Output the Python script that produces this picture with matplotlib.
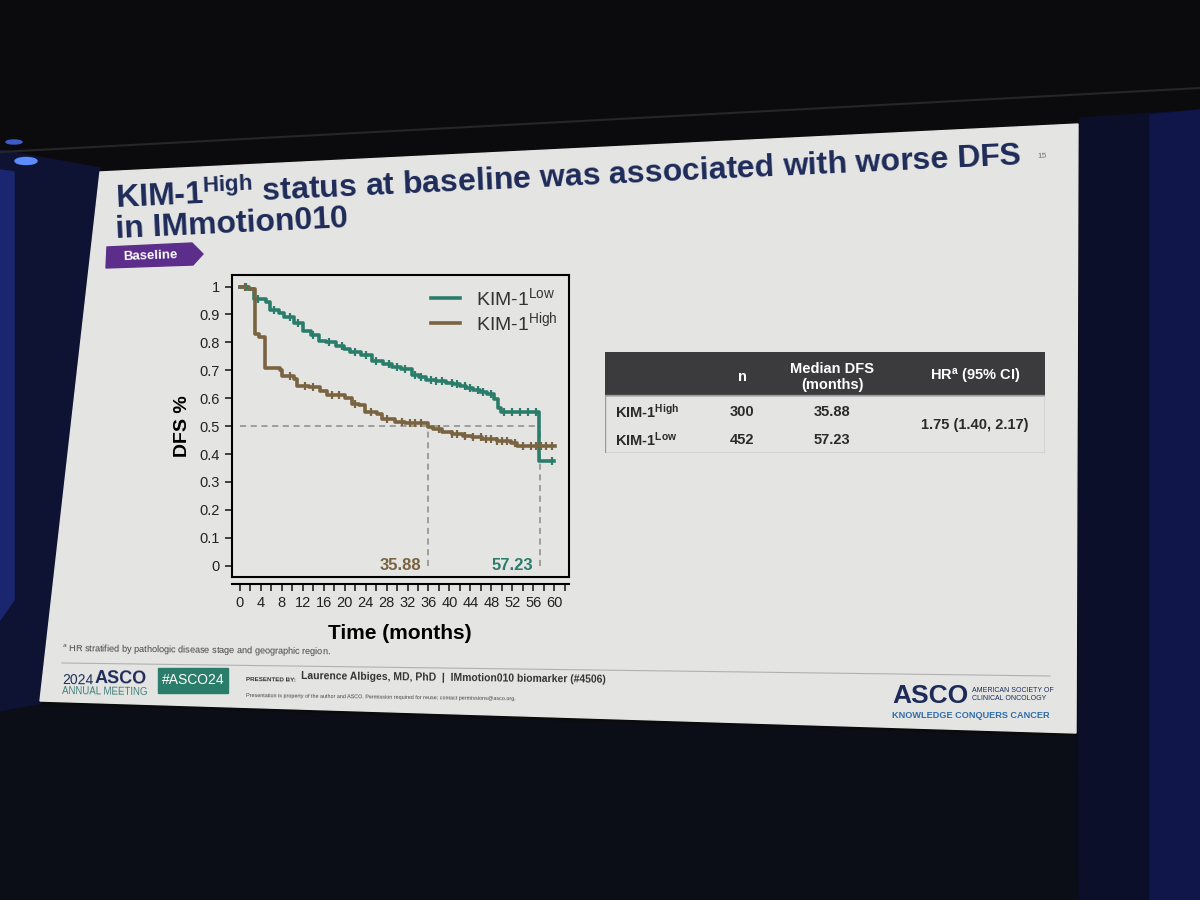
import numpy as np
import matplotlib
matplotlib.use('Agg')
import matplotlib.pyplot as plt
from matplotlib import font_manager
from matplotlib.patches import Polygon, Rectangle, Ellipse
from matplotlib.ticker import MultipleLocator

# fonts: the slide uses Arial / Arial Narrow
installed = {f.name for f in font_manager.fontManager.ttflist}
narrow = 'Liberation Sans Narrow' if 'Liberation Sans Narrow' in installed else 'Liberation Sans'
plt.rcParams['font.family'] = ['Liberation Sans', 'DejaVu Sans']
plt.rcParams['mathtext.fontset'] = 'custom'
plt.rcParams['mathtext.rm'] = 'Liberation Sans'
plt.rcParams['mathtext.bf'] = 'Liberation Sans:bold'
plt.rcParams['mathtext.it'] = 'Liberation Sans:italic'

# KM curves (months, DFS)
low_t = [0, 1.5, 2.6, 4.9, 5.7, 7.4, 8.5, 10.3, 12.1, 13.5, 15.0, 16.4, 18.4, 19.8,
         21.1, 23.2, 25.2, 27.3, 29.0, 30.8, 32.8, 34.2, 35.6, 37.5, 39.4, 40.7,
         42.0, 43.2, 44.5, 45.8, 47.2, 48.5, 49.2, 49.8, 57.2, 59.9]
low_s = [1.0, 0.99, 0.955, 0.945, 0.915, 0.905, 0.89, 0.87, 0.84, 0.827, 0.806, 0.80,
         0.787, 0.777, 0.766, 0.754, 0.735, 0.722, 0.712, 0.703, 0.684, 0.675, 0.665,
         0.66, 0.656, 0.65, 0.643, 0.637, 0.63, 0.624, 0.615, 0.597, 0.566, 0.552,
         0.375, 0.375]
high_t = [0, 1.8, 2.8, 3.6, 4.8, 7.6, 8.0, 10.4, 10.9, 13.2, 15.3, 16.7, 20.1, 21.4,
          22.8, 23.8, 26.2, 27.2, 29.6, 31.5, 35.9, 36.8, 38.6, 40.5, 42.5, 44.3,
          46.2, 49.0, 51.7, 53.0, 60.1]
high_s = [1.0, 0.99, 0.83, 0.82, 0.71, 0.70, 0.68, 0.67, 0.645, 0.64, 0.627, 0.61,
          0.60, 0.58, 0.575, 0.55, 0.545, 0.525, 0.515, 0.512, 0.497, 0.49, 0.478,
          0.472, 0.465, 0.46, 0.453, 0.448, 0.44, 0.428, 0.428]
# censoring ticks
censor_low = [1.2, 3.5, 6.5, 9.5, 11, 14, 17, 19.5, 22, 24, 26, 28.5, 30, 31.5, 33.5,
              34.5, 36.5, 37.5, 38.5, 40.5, 41.5, 43, 44, 45.5, 46.5, 48, 50.5, 52,
              53.5, 55, 56.5, 59.5]
censor_high = [1.0, 9.5, 12.5, 14, 17.5, 19, 22, 25, 28, 31, 32.5, 33.5, 34.5, 38,
               40.5, 41.5, 43, 44.5, 46, 47, 48, 49, 50, 51, 52.5, 54, 55.5, 56.5,
               57.5, 58.5, 59.5]
medians = [35.88, 57.23]

# table content
tab_groups = ['KIM-1$^{\\mathbf{High}}$', 'KIM-1$^{\\mathbf{Low}}$']
tab_n = ['300', '452']
tab_median = ['35.88', '57.23']
tab_hr = '1.75 (1.40, 2.17)'

teal = '#2b7d6b'
brown = '#7a6341'
navy = '#1e2b58'

fig = plt.figure(figsize=(12, 9), dpi=100, facecolor='#0b0a0c')

# background / slide, drawn in pixel coords
bg = fig.add_axes([0, 0, 1, 1])
bg.set_xlim(0, 1200)
bg.set_ylim(900, 0)
bg.axis('off')
bg.add_patch(Rectangle((0, 0), 1200, 900, color='#0b0a0c'))
bg.plot([0, 1200], [152, 88], color='#26262a', lw=1.5)
bg.add_patch(Polygon([(0, 150), (100, 168), (40, 705), (0, 712)], color='#0e1334'))
bg.add_patch(Polygon([(0, 170), (14, 172), (14, 600), (0, 620)], color='#1a2670'))
bg.add_patch(Polygon([(1080, 118), (1200, 110), (1200, 900), (1078, 900)], color='#0b0f2a'))
bg.add_patch(Polygon([(1150, 115), (1200, 110), (1200, 900), (1150, 900)], color='#10164a'))
bg.add_patch(Polygon([(0, 712), (40, 705), (1076, 737), (1078, 900), (0, 900)], color='#0b0d17'))
bg.add_patch(Ellipse((26, 161), 22, 7, color='#5d8cff'))
bg.add_patch(Ellipse((14, 142), 16, 4, color='#3d5ccc'))
bg.add_patch(Polygon([(100, 172), (1078, 124), (1076, 733), (40, 701)], color='#e4e5e3'))

# title
bg.text(116, 208, r'KIM-1$^{\mathregular{High}}$ status at baseline was associated with worse DFS',
        fontsize=23, fontweight='bold', family=narrow, color=navy,
        rotation=2.7, rotation_mode='anchor', ha='left', va='baseline')
bg.text(116, 238, 'in IMmotion010', fontsize=23, fontweight='bold', family=narrow,
        color=navy, rotation=2.7, rotation_mode='anchor', ha='left', va='baseline')
bg.text(1042, 156, '15', fontsize=6, color='#777777', rotation=2.7, ha='center', va='center')

# "Baseline" tag
bg.add_patch(Polygon([(107, 247), (192, 243), (203, 254), (193, 265), (106, 268)], color='#5c2d8a'))
bg.text(150, 256, 'Baseline', fontsize=9.5, fontweight='bold', family=narrow, color='white',
        rotation=2, ha='center', va='center')

# footnote and footer
bg.text(62, 650, r'$^{a}$ HR stratified by pathologic disease stage and geographic region.',
        fontsize=6.6, family=narrow, color='#444444', rotation=-0.7, va='center')
bg.plot([62, 1050], [663, 676], color='#b0b0b0', lw=0.8)
bg.text(62, 684, '2024', fontsize=10, family=narrow, color=navy, va='baseline', rotation=-0.7)
bg.text(94, 684, 'ASCO', fontsize=13, fontweight='bold', family=narrow, color=navy,
        va='baseline', rotation=-0.7)
bg.text(62, 695, 'ANNUAL MEETING', fontsize=7, family=narrow, color='#3f7f78',
        va='baseline', rotation=-0.7)
bg.add_patch(Rectangle((158, 668), 70, 25, color=teal))
bg.text(193, 680, '#ASCO24', fontsize=10, family=narrow, color='white', ha='center', va='center')
bg.text(246, 682, 'PRESENTED BY:', fontsize=4.5, fontweight='bold', family=narrow,
        color='#333333', va='baseline', rotation=-0.7)
bg.text(301, 683, 'Laurence Albiges, MD, PhD  |  IMmotion010 biomarker (#4506)', fontsize=7.5,
        fontweight='bold', family=narrow, color='#333333', va='baseline', rotation=-0.7)
bg.text(246, 700, 'Presentation is property of the author and ASCO. Permission required for reuse; '
        'contact permissions@asco.org.', fontsize=3.9, family=narrow, color='#444444',
        va='baseline', rotation=-0.7)
bg.text(892, 703, 'ASCO', fontsize=19, fontweight='bold', family=narrow, color=navy, va='baseline')
bg.text(972, 694, 'AMERICAN SOCIETY OF\nCLINICAL ONCOLOGY', fontsize=5, family=narrow,
        color=navy, va='center', linespacing=1.2)
bg.text(892, 716, 'KNOWLEDGE CONQUERS CANCER', fontsize=6.6, fontweight='bold', family=narrow,
        color='#2f6da8', va='center')

# KM plot
ax = fig.add_axes([0.193, 0.359, 0.281, 0.335])
ax.set_facecolor('none')
ax.step(low_t, low_s, where='post', color=teal, lw=2.6, label='KIM-1$^{\\mathregular{Low}}$')
ax.step(high_t, high_s, where='post', color=brown, lw=2.6, label='KIM-1$^{\\mathregular{High}}$')


def at_time(t, s, c):
    return s[np.searchsorted(t, c, side='right') - 1]


ax.plot(censor_low, [at_time(low_t, low_s, c) for c in censor_low], ls='none',
        marker='|', ms=6, mew=1.6, color=teal)
ax.plot(censor_high, [at_time(high_t, high_s, c) for c in censor_high], ls='none',
        marker='|', ms=6, mew=1.6, color=brown)

# median reference lines
dash = dict(color='#8a8a8a', lw=1.1, ls=(0, (4, 3)), zorder=1)
ax.plot([0, medians[1]], [0.5, 0.5], **dash)
for m in medians:
    ax.plot([m, m], [0, 0.5], **dash)
ax.text(medians[0] - 1.2, 0.0, '35.88', color=brown, fontsize=12, fontweight='bold',
        ha='right', va='center')
ax.text(medians[1] - 1.2, 0.0, '57.23', color=teal, fontsize=12, fontweight='bold',
        ha='right', va='center')

ax.set_xlim(-1.6, 62.8)
ax.set_ylim(-0.04, 1.04)
ax.xaxis.set_major_locator(MultipleLocator(4))
ax.xaxis.set_minor_locator(MultipleLocator(2))
ax.set_yticks(np.arange(0, 1.01, 0.1))
ax.set_yticklabels(['0', '0.1', '0.2', '0.3', '0.4', '0.5', '0.6', '0.7', '0.8', '0.9', '1'])
ax.tick_params(which='both', direction='out', length=5, width=1.2, labelsize=10.5,
               colors='#222222')
for sp in ax.spines.values():
    sp.set_linewidth(1.5)
ax.spines['bottom'].set_position(('outward', 5))
ax.plot([0, 1], [0, 0], transform=ax.transAxes, color='black', lw=1.5, clip_on=False)
ax.set_xlabel('Time (months)', fontsize=15, fontweight='bold', labelpad=10)
ax.set_ylabel('DFS %', fontsize=14, fontweight='bold', labelpad=6)
ax.legend(loc='upper right', frameon=False, fontsize=14, handlelength=1.5,
          labelspacing=0.05, borderaxespad=0.2, labelcolor='#333333')

# table
tx = fig.add_axes([605 / 1200, 1 - 453 / 900, 440 / 1200, 101 / 900])
tx.set_xlim(0, 440)
tx.set_ylim(101, 0)
tx.axis('off')
tx.add_patch(Rectangle((0, 0), 440, 43, color='#3b3b3d'))
tx.add_patch(Rectangle((0, 43), 440, 58, fill=False, edgecolor='#9a9a9a', lw=1))
hdr = dict(color='white', fontsize=10.5, fontweight='bold', ha='center', va='center')
tx.text(137, 25, 'n', **hdr)
tx.text(227, 25, 'Median DFS\n(months)', linespacing=1.1, **hdr)
tx.text(370, 25, 'HR$^{\\mathbf{a}}$ (95% CI)', **hdr)
body = dict(color='#2a2a2a', fontsize=10.5, fontweight='bold', va='center')
rows_y = [60, 88]
for i in range(len(tab_groups)):
    tx.text(10, rows_y[i], tab_groups[i], ha='left', **body)
    tx.text(137, rows_y[i], tab_n[i], ha='center', **body)
    tx.text(227, rows_y[i], tab_median[i], ha='center', **body)
tx.text(370, 73, tab_hr, ha='center', **body)

fig.savefig('out.png', dpi=100, facecolor=fig.get_facecolor())
